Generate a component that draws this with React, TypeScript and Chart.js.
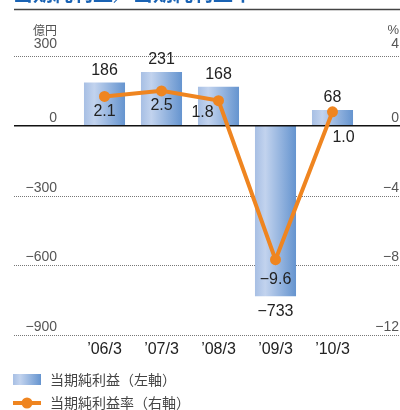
import React, { useEffect, useRef } from 'react';
import { Chart, registerables } from 'chart.js';

Chart.register(...registerables);

const categories = ['’06/3', '’07/3', '’08/3', '’09/3', '’10/3'];
const netIncome = [186, 231, 168, -733, 68];
const netMargin = [2.1, 2.5, 1.8, -9.6, 1.0];
const leftTicks = [300, 0, -300, -600, -900];
const leftTickLabels = ['300', '0', '−300', '−600', '−900'];
const rightTickLabels = ['4', '0', '−4', '−8', '−12'];
const marginLabels = ['2.1', '2.5', '1.8', '−9.6', '1.0'];
const titleText = '当期純利益／当期純利益率';
const leftUnit = '億円';
const rightUnit = '%';
const legendLabels = ['当期純利益（左軸）', '当期純利益率（右軸）'];

// label placement tweaks (style, not data)
const marginLabelOffsets = [[0, 15], [0, 15], [-16, 12], [0, 20], [11, 26]];

const FONT = '"Liberation Sans", "Noto Sans CJK JP", sans-serif';
const CJK = '"Noto Sans CJK JP", sans-serif';
const ORANGE = '#ef8520';
const BAR_FRAC = 0.72;

function barGradient(ctx: CanvasRenderingContext2D, x0: number, x1: number) {
  const g = ctx.createLinearGradient(x0, 0, x1, 0);
  g.addColorStop(0, '#a7bfe4');
  g.addColorStop(0.25, '#c2d3ee');
  g.addColorStop(1, '#6594cf');
  return g;
}

const fmt = (v: number) => (v < 0 ? '−' + Math.abs(v) : String(v));

const decorPlugin = {
  id: 'decor',
  beforeDatasetsDraw(chart: any) {
    const ctx = chart.ctx as CanvasRenderingContext2D;
    const y = chart.scales.y;
    ctx.save();
    ctx.strokeStyle = '#777';
    ctx.lineWidth = 1;
    ctx.setLineDash([1, 1]);
    leftTicks.forEach((t) => {
      if (t === 0) return;
      const py = Math.round(y.getPixelForValue(t)) + 0.5;
      ctx.beginPath();
      ctx.moveTo(14, py);
      ctx.lineTo(400, py);
      ctx.stroke();
    });
    ctx.restore();
  },
  afterDatasetDraw(chart: any, args: any) {
    if (args.index !== 0) return;
    const ctx = chart.ctx as CanvasRenderingContext2D;
    const py = chart.scales.y.getPixelForValue(0);
    ctx.save();
    ctx.strokeStyle = '#111';
    ctx.lineWidth = 1.5;
    ctx.beginPath();
    ctx.moveTo(14, py);
    ctx.lineTo(400, py);
    ctx.stroke();
    ctx.restore();
  },
  afterDraw(chart: any) {
    const ctx = chart.ctx as CanvasRenderingContext2D;
    const xs = chart.scales.x;
    const y = chart.scales.y;
    const y1 = chart.scales.y1;
    ctx.save();

    // title (cut off at top) and rule
    ctx.fillStyle = '#1a63b4';
    ctx.font = `bold 20px ${CJK}`;
    ctx.textAlign = 'left';
    ctx.textBaseline = 'alphabetic';
    ctx.fillText(titleText, 13, 1);
    ctx.strokeStyle = '#444';
    ctx.lineWidth = 1.5;
    ctx.beginPath();
    ctx.moveTo(14, 9.5);
    ctx.lineTo(400, 9.5);
    ctx.stroke();

    // units
    ctx.fillStyle = '#555';
    ctx.font = `12px ${CJK}`;
    ctx.textBaseline = 'middle';
    ctx.textAlign = 'right';
    ctx.fillText(leftUnit, 57, 30);
    ctx.font = `13px ${FONT}`;
    ctx.fillText(rightUnit, 399, 30);

    // tick labels
    ctx.font = `14px ${FONT}`;
    ctx.textBaseline = 'alphabetic';
    leftTicks.forEach((t, i) => {
      const py = y.getPixelForValue(t);
      const off = i === 0 ? 8 : 4;
      ctx.textAlign = 'right';
      ctx.fillText(leftTickLabels[i], 57, py - off);
      ctx.fillText(rightTickLabels[i], 399, py - off);
    });

    // x labels
    ctx.fillStyle = '#222';
    ctx.font = `16px ${FONT}`;
    ctx.textAlign = 'center';
    ctx.textBaseline = 'middle';
    categories.forEach((c, i) => {
      ctx.fillText(c, xs.getPixelForValue(i), 350);
    });

    // bar value labels
    netIncome.forEach((v, i) => {
      const px = xs.getPixelForValue(i);
      const py = y.getPixelForValue(v);
      ctx.fillText(fmt(v), px, v >= 0 ? py - 12 : py + 15);
    });

    // margin labels
    netMargin.forEach((v, i) => {
      const px = xs.getPixelForValue(i);
      const py = y1.getPixelForValue(v);
      const [dx, dy] = marginLabelOffsets[i];
      ctx.fillText(marginLabels[i], px + dx, py + dy);
    });

    // legend
    ctx.fillStyle = barGradient(ctx, 13, 41);
    ctx.fillRect(13, 374, 28, 11);
    ctx.strokeStyle = ORANGE;
    ctx.lineWidth = 4;
    ctx.beginPath();
    ctx.moveTo(13, 403);
    ctx.lineTo(41, 403);
    ctx.stroke();
    ctx.fillStyle = ORANGE;
    ctx.beginPath();
    ctx.arc(27, 403, 5.5, 0, Math.PI * 2);
    ctx.fill();
    ctx.fillStyle = '#444';
    ctx.font = `14px ${CJK}`;
    ctx.textAlign = 'left';
    ctx.textBaseline = 'middle';
    ctx.fillText(legendLabels[0], 50, 380);
    ctx.fillText(legendLabels[1], 50, 403);

    ctx.restore();
  },
};

export default function App() {
  const ref = useRef<HTMLCanvasElement | null>(null);
  useEffect(() => {
    if (!ref.current) return;
    const chart = new Chart(ref.current, {
      type: 'bar',
      data: {
        labels: categories,
        datasets: [
          {
            type: 'bar',
            label: legendLabels[0],
            data: netIncome,
            yAxisID: 'y',
            order: 2,
            barPercentage: BAR_FRAC,
            categoryPercentage: 1,
            backgroundColor: (c: any) => {
              const chart = c.chart;
              const xs = chart.scales?.x;
              const area = chart.chartArea;
              if (!xs || !area || c.type !== 'data') return '#7fa6d9';
              const cx = xs.getPixelForValue(c.dataIndex);
              const half = ((area.right - area.left) / categories.length) * BAR_FRAC / 2;
              return barGradient(chart.ctx, cx - half, cx + half);
            },
            borderWidth: 0,
          } as any,
          {
            type: 'line',
            label: legendLabels[1],
            data: netMargin,
            yAxisID: 'y1',
            order: 1,
            borderColor: ORANGE,
            backgroundColor: ORANGE,
            borderWidth: 4,
            pointRadius: 5.5,
            pointBackgroundColor: ORANGE,
            pointBorderWidth: 0,
            tension: 0,
            clip: false,
          } as any,
        ],
      },
      options: {
        animation: false,
        responsive: false,
        events: [],
        layout: { padding: { left: 76, right: 39, top: 56, bottom: 75 } },
        plugins: { legend: { display: false }, tooltip: { enabled: false }, title: { display: false } },
        scales: {
          x: { display: false, offset: true },
          y: { display: false, min: -900, max: 300 },
          y1: { display: false, min: -15, max: 5, position: 'right' },
        },
      },
      plugins: [decorPlugin],
    });
    return () => chart.destroy();
  }, []);
  return (
    <div style={{ position: 'absolute', left: 0, top: 0, width: 400, height: 410, background: '#fff' }}>
      <canvas ref={ref} width={400} height={410} style={{ display: 'block' }} />
    </div>
  );
}
